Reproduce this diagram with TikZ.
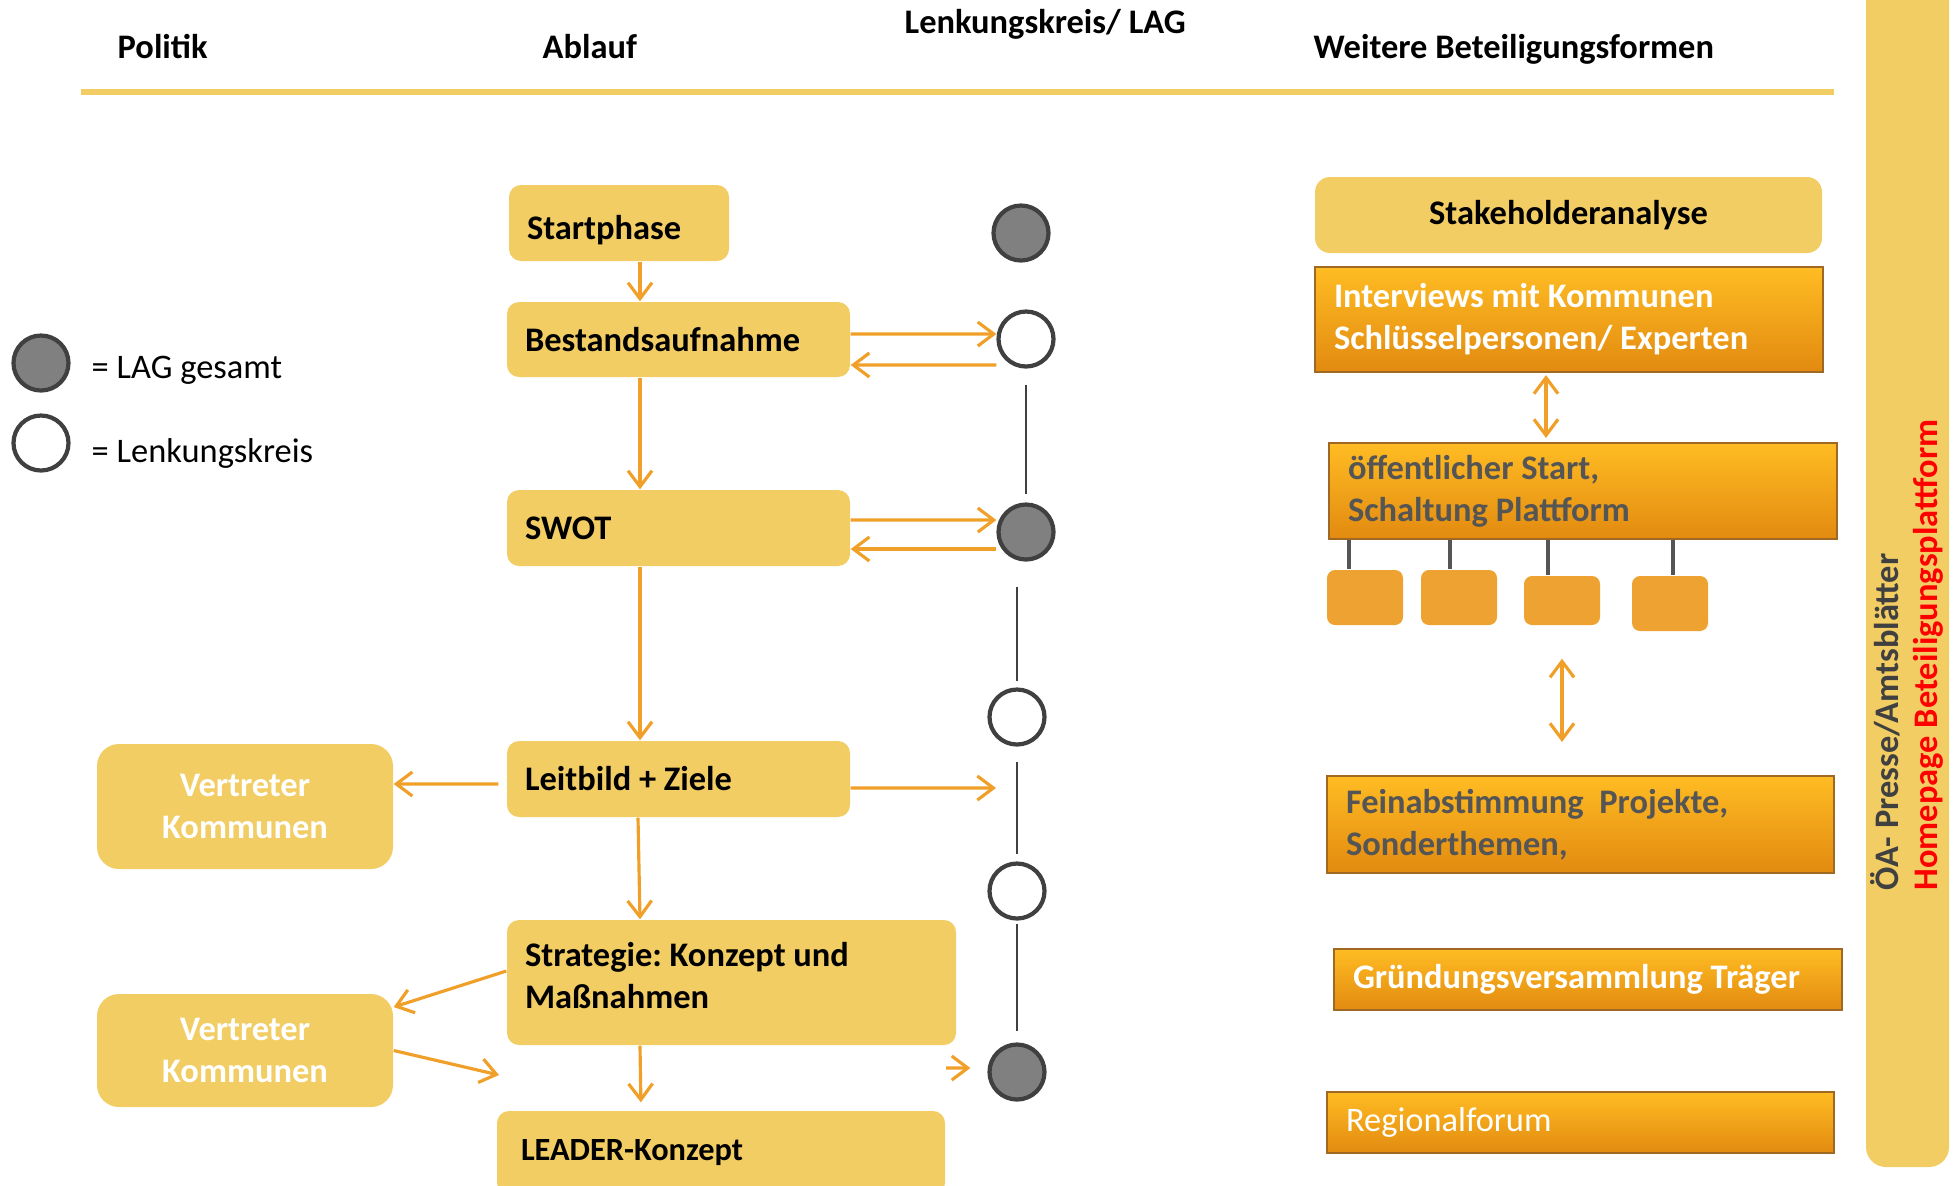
\documentclass[tikz,border=0pt]{standalone}
\usepackage{fontspec}
\setmainfont{Carlito}[Scale=0.98]
\usetikzlibrary{arrows.meta}
\definecolor{boxyellow}{RGB}{242,205,99}
\definecolor{arrorange}{RGB}{240,160,40}
\definecolor{smallorange}{RGB}{237,162,50}
\definecolor{ringgray}{RGB}{64,64,64}
\definecolor{fillgray}{RGB}{128,128,128}
\definecolor{orangetop}{RGB}{255,188,35}
\definecolor{orangebot}{RGB}{226,138,16}
\definecolor{orangeedge}{RGB}{160,105,35}
\definecolor{darktext}{RGB}{85,85,85}
\tikzset{
  every node/.append style={execute at begin node={\frenchspacing\spaceskip=0pt\xspaceskip=0pt\relax}},
  ablauf/.style={fill=boxyellow,rounded corners=0.12cm,inner xsep=0.18cm,inner ysep=0pt,align=left,font=\bfseries},
  vertreter/.style={fill=boxyellow,rounded corners=0.22cm,minimum width=2.96cm,align=center,text=white,font=\bfseries},
  beteil/.style={draw=orangeedge,line width=0.6pt,top color=orangetop,bottom color=orangebot,inner xsep=0.19cm,inner ysep=0pt,align=left,font=\bfseries},
  klein/.style={fill=smallorange,rounded corners=0.08cm,minimum width=0.76cm,inner sep=0pt},
  lag/.style={circle,draw=ringgray,fill=fillgray,line width=1.2pt,minimum size=0.55cm,inner sep=0pt},
  lk/.style={lag,fill=white},
  kopf/.style={anchor=base west,inner sep=0pt,font=\bfseries},
  barb/.tip={Straight Barb[length=0.16cm,width=0.24cm]},
  arr/.style={draw=arrorange,line width=0.9pt,-barb},
  dblarr/.style={draw=arrorange,line width=0.9pt,barb-barb},
  kette/.style={draw=ringgray,line width=0.6pt},
  stub/.style={draw=darktext,line width=1.3pt}
}
\begin{document}
\begin{tikzpicture}[x=1cm,y=-1cm]
\useasboundingbox (0,0) rectangle (19.55,11.85);
\node[kopf] (politik) at (1.17,0.58) {Politik};
\node[kopf] (ablauf) at (5.42,0.58) {Ablauf};
\node[kopf] (lenkung) at (9.04,0.33) {Lenkungskreis/ LAG};
\node[kopf] (weitere) at (13.13,0.58) {Weitere Beteiligungsformen};
\draw[boxyellow,line width=0.06cm] (0.81,0.92) -- (18.34,0.92);
\fill[boxyellow,rounded corners=0.2cm] (18.66,-0.5) rectangle (19.49,11.67);
\node[rotate=90,anchor=base west,inner sep=0pt,text=ringgray,font=\bfseries] (presse) at (18.98,8.91) {ÖA- Presse/Amtsblätter};
\node[rotate=90,anchor=base west,inner sep=0pt,text=red,font=\bfseries] (homepage) at (19.37,8.91) {Homepage Beteiligungsplattform};
% Legende
\node[lag] (leglag) at (0.41,3.63) {};
\node[lk] (leglk) at (0.41,4.43) {};
\node[anchor=base west,inner sep=0pt] (leglagtxt) at (0.91,3.78) {= LAG gesamt};
\node[anchor=base west,inner sep=0pt] (leglktxt) at (0.91,4.62) {= Lenkungskreis};
% Ablauf
\node[ablauf,text width=1.84cm,minimum height=0.76cm,text height=9.6pt,text depth=0pt] (start) at (6.19,2.23) {Startphase};
\node[ablauf,text width=3.07cm,minimum height=0.75cm] (best) at (6.785,3.395) {Bestandsaufnahme};
\node[ablauf,text width=3.07cm,minimum height=0.76cm] (swot) at (6.785,5.28) {SWOT};
\node[ablauf,text width=3.07cm,minimum height=0.76cm] (leit) at (6.785,7.79) {Leitbild + Ziele};
\node[ablauf,text width=4.13cm,minimum height=1.25cm] (strat) at (7.315,9.825) {Strategie: Konzept und\\Maßnahmen\vphantom{p}\rule[-4pt]{0pt}{4pt}};
\node[ablauf,inner xsep=0.24cm,text width=4.00cm,minimum height=0.84cm,font=\bfseries\fontsize{9.4}{11}\selectfont] (leader) at (7.21,11.53) {LEADER-Konzept};
\node[vertreter,minimum height=1.25cm] (v1) at (2.45,8.065) {Vertreter\\Kommunen};
\node[vertreter,minimum height=1.13cm] (v2) at (2.45,10.505) {Vertreter\\Kommunen};
% Lenkungskreis / LAG
\node[lag] (c1) at (10.21,2.33) {};
\node[lk] (c2) at (10.26,3.39) {};
\node[lag] (c3) at (10.26,5.32) {};
\node[lk] (c4) at (10.17,7.17) {};
\node[lk] (c5) at (10.17,8.91) {};
\node[lag] (c6) at (10.17,10.72) {};
\draw[kette,shorten <=0.16cm,shorten >=0.08cm] (c2.south) -- (c3.north);
\draw[kette,shorten <=0.25cm,shorten >=0.06cm] (c4.north |- c3.south) -- (c4.north);
\draw[kette,shorten <=0.15cm,shorten >=0.07cm] (c4.south) -- (c5.north);
\draw[kette,shorten <=0.03cm,shorten >=0.11cm] (c5.south) -- (c6.north);
% Beteiligung
\node[ablauf,align=center,minimum width=5.07cm,minimum height=0.76cm,rounded corners=0.15cm] (stake) at (15.685,2.15) {Stakeholderanalyse};
\node[beteil,text=white,text width=4.70cm,minimum height=1.05cm] (interv) at (15.69,3.195) {Interviews mit Kommunen\\Schlüsselpersonen/ Experten};
\node[beteil,text=darktext,text width=4.70cm,minimum height=0.96cm] (oeff) at (15.83,4.91) {öffentlicher Start,\\Schaltung Plattform};
\node[klein,minimum height=0.55cm] (sb1) at (13.65,5.975) {};
\node[klein,minimum height=0.55cm] (sb2) at (14.59,5.975) {};
\node[klein,minimum height=0.49cm] (sb3) at (15.62,6.005) {};
\node[klein,minimum height=0.55cm] (sb4) at (16.70,6.035) {};
\foreach \b/\x in {sb1/13.49,sb2/14.50,sb3/15.48,sb4/16.73}
  \draw[stub] (\x,0 |- oeff.south) -- (\x,0 |- \b.north);
\node[beteil,text=darktext,text width=4.69cm,minimum height=0.97cm] (fein) at (15.805,8.245) {Feinabstimmung\ \ Projekte,\\Sonderthemen,};
\node[beteil,text=white,text width=4.70cm,minimum height=0.61cm] (gruend) at (15.88,9.795) {Gründungsversammlung Träger};
\node[beteil,text=white,text width=4.69cm,minimum height=0.61cm,font=\normalfont] (regio) at (15.805,11.225) {Regionalforum};
\draw[dblarr,shorten <=0.02cm,shorten >=0.04cm] (15.46,0 |- interv.south) -- (15.46,0 |- oeff.north);
\draw[dblarr,shorten <=0.33cm,shorten >=0.33cm] (15.62,0 |- sb3.south) -- (15.62,0 |- fein.north);
% Pfeile
\coordinate (leitout) at (9.96,7.88);
\coordinate (v2out) at (4.99,10.75);
\coordinate (c6in) at (9.46,10.68);
\draw[arr] (6.40,0 |- start.south) -- (6.40,0 |- best.north);
\draw[arr] (6.40,0 |- best.south) -- (6.40,0 |- swot.north);
\draw[arr] (6.40,0 |- swot.south) -- (6.40,0 |- leit.north);
\draw[arr] (6.38,0 |- leit.south) -- (6.40,0 |- strat.north);
\draw[arr,shorten >=0.08cm] (6.40,0 |- strat.south) -- (6.41,0 |- leader.north);
\draw[arr] ([yshift=0.055cm]best.east) -- ([yshift=0.05cm]c2.west);
\draw[arr] ([yshift=-0.26cm]c2.west) -- ([yshift=-0.255cm]best.east);
\draw[arr] ([yshift=0.08cm]swot.east) -- ([yshift=0.12cm]c3.west);
\draw[arr] ([yshift=-0.17cm]c3.west) -- ([yshift=-0.21cm]swot.east);
\draw[arr] ([yshift=-0.09cm]leit.east) -- (leitout);
\draw[arr] ([xshift=-0.08cm,yshift=-0.05cm]leit.west) -- ([yshift=0.225cm]v1.east);
\draw[arr] ([yshift=0.115cm]strat.west) -- ([yshift=0.435cm]v2.east);
\draw[arr] (v2.east) -- (v2out);
\draw[arr] (c6in) -- ([xshift=-0.17cm,yshift=0.04cm]c6.west);
\end{tikzpicture}
\end{document}
